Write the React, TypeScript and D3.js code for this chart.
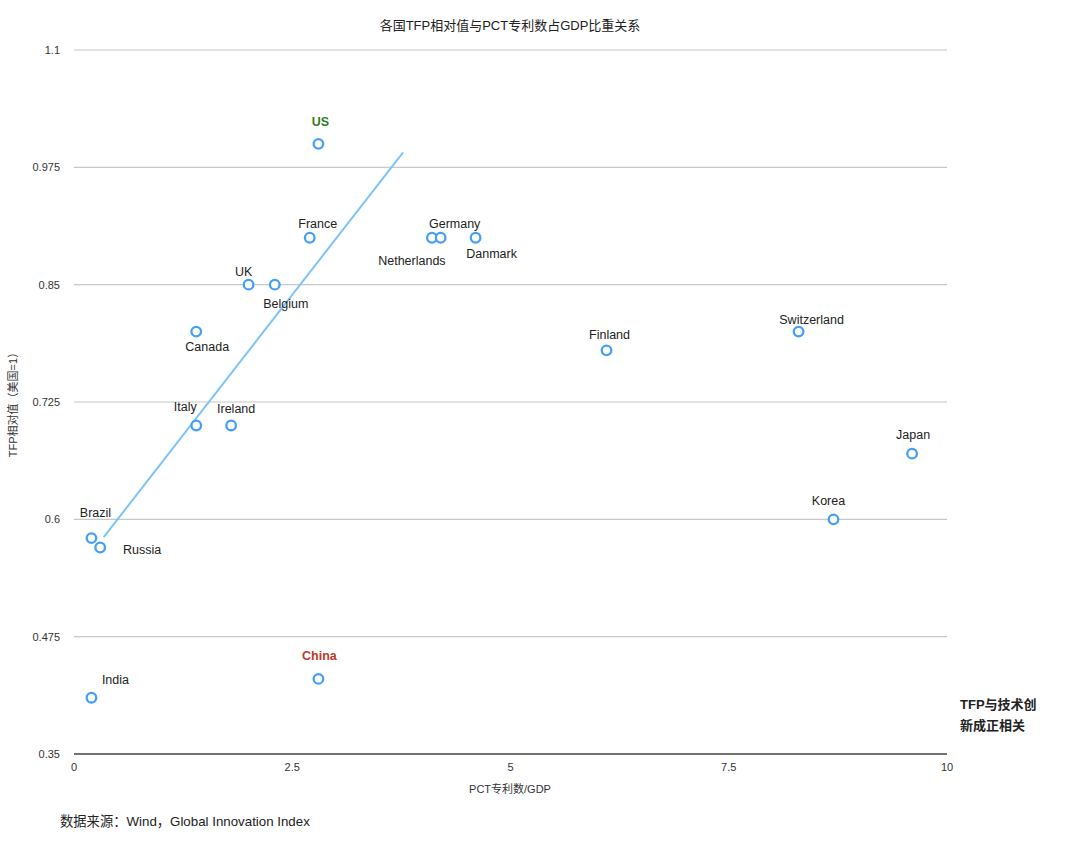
import React from "react";
import * as d3 from "d3";

const countries = ["US","France","Netherlands","Germany","Danmark","UK","Belgium","Canada","Finland","Switzerland","Italy","Ireland","Japan","Korea","Brazil","Russia","India","China"];
const pctPerGdp = [2.8,2.7,4.1,4.2,4.6,2.0,2.3,1.4,6.1,8.3,1.4,1.8,9.6,8.7,0.2,0.3,0.2,2.8];
const tfpRel = [1.0,0.9,0.9,0.9,0.9,0.85,0.85,0.8,0.78,0.8,0.7,0.7,0.67,0.6,0.58,0.57,0.41,0.43];
const yTicks = [0.35,0.475,0.6,0.725,0.85,0.975,1.1];
const xTicks = [0,2.5,5,7.5,10];
const trendX = [0.34,3.77];
const trendY = [0.581,0.991];

// label offsets relative to the point (px)
const labelOffset: Record<string,[number,number]> = {
  US:[2,-18], France:[8,-10], Germany:[14,-10], Netherlands:[-20,27], Danmark:[16,20],
  UK:[-5,-9], Belgium:[11,23], Canada:[11,19], Finland:[3,-11], Switzerland:[13,-8],
  Italy:[-11,-14], Ireland:[5,-12], Japan:[1,-15], Korea:[-5,-14], Brazil:[4,-21],
  Russia:[42,7], India:[24,-14], China:[1,-19],
};
const labelColor: Record<string,string> = { US:"#2e7d1e", China:"#c0392b" };

const W = 1080, H = 859;
const left = 74, right = 947, top = 50, bottom = 754;
const font = "'Liberation Sans', Arial, 'Noto Sans CJK SC', sans-serif";

export default function App() {
  const x = d3.scaleLinear().domain([0,10]).range([left,right]);
  const y = d3.scaleLinear().domain([0.35,1.1]).range([bottom,top]);
  const line = d3.line<number>().x((_,i)=>x(trendX[i])).y((d)=>y(d));
  return (
    <svg width={W} height={H} style={{position:"absolute",left:0,top:0,background:"#fff"}} fontFamily={font}>
      <text x={510} y={30} textAnchor="middle" fontSize={13} fill="#222">各国TFP相对值与PCT专利数占GDP比重关系</text>
      {yTicks.map((t)=> (
        <g key={t}>
          {t!==0.35 && <line x1={left} x2={right} y1={y(t)} y2={y(t)} stroke="#c8c8c8" strokeWidth={1.2}/>}
          <text x={60} y={y(t)+4} textAnchor="end" fontSize={11} fill="#333">{t}</text>
        </g>
      ))}
      <line x1={left} x2={right} y1={bottom} y2={bottom} stroke="#444" strokeWidth={1.5}/>
      {xTicks.map((t)=> (
        <text key={t} x={x(t)} y={771} textAnchor="middle" fontSize={11} fill="#333">{t}</text>
      ))}
      <text x={510} y={793} textAnchor="middle" fontSize={11} fill="#333">PCT专利数/GDP</text>
      <text transform={`translate(17,${402}) rotate(-90)`} textAnchor="middle" fontSize={11} fill="#333">TFP相对值（美国=1）</text>
      <path d={line(trendY) || ""} fill="none" stroke="#7cc4f7" strokeWidth={2}/>
      {countries.map((c,i)=> (
        <circle key={c} cx={x(pctPerGdp[i])} cy={y(tfpRel[i])} r={4.8} fill="#fff" stroke="#45a0f5" strokeWidth={2.3}/>
      ))}
      {countries.map((c,i)=> {
        const [dx,dy] = labelOffset[c];
        const col = labelColor[c];
        return (
          <text key={c+"l"} x={x(pctPerGdp[i])+dx} y={y(tfpRel[i])+dy} textAnchor="middle" fontSize={12.5}
            fill={col || "#222"} fontWeight={col ? "bold" : "normal"}>{c}</text>
        );
      })}
      <text x={60} y={826} fontSize={13.3} fill="#222">数据来源：Wind，Global Innovation Index</text>
      <text x={960} y={709} fontSize={13} fontWeight="bold" fill="#222">TFP与技术创</text>
      <text x={960} y={730} fontSize={13} fontWeight="bold" fill="#222">新成正相关</text>
    </svg>
  );
}
